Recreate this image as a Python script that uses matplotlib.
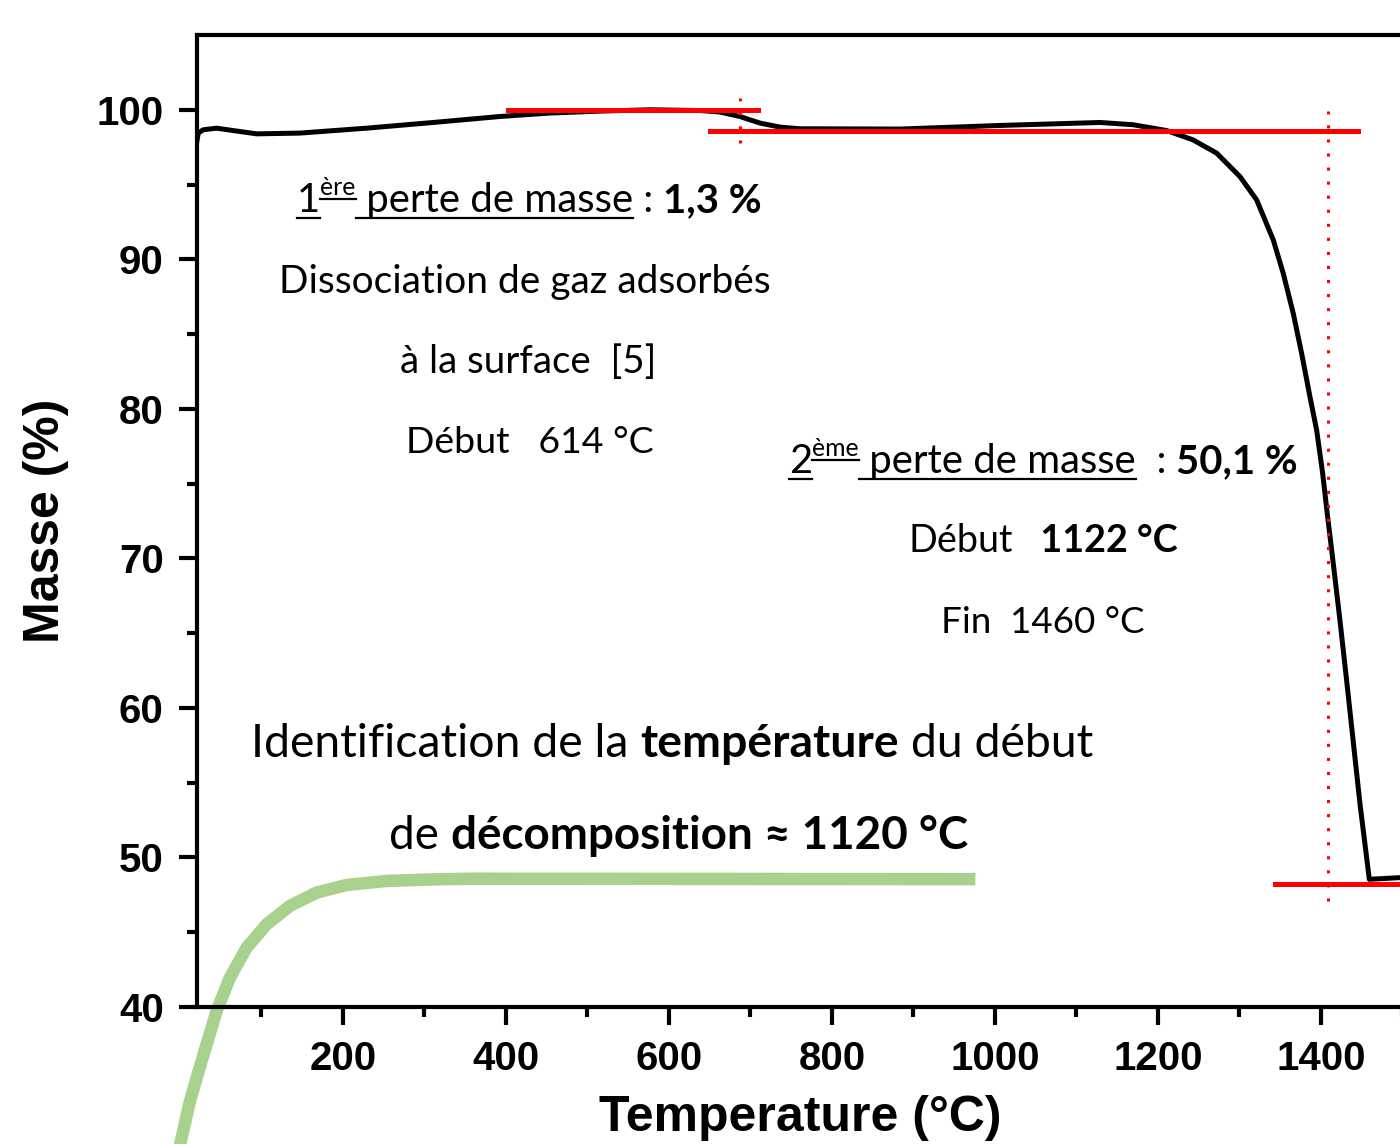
import numpy as np
import matplotlib
matplotlib.use("Agg")
import matplotlib.pyplot as plt
from matplotlib.lines import Line2D

W, H = 1400, 1144
TXT = ["Lato", "DejaVu Sans"]
AXF = "Liberation Sans"

# TGA curve
temp = [20.5, 22.5, 28.6, 45, 65.4, 94.1, 147.2, 229.1, 310.8, 392.6, 454, 515.3, 576.7,
        638, 662.6, 687.1, 711.7, 736.2, 760.7, 883.4, 1006, 1128.8, 1169.3, 1210.7,
        1242.9, 1272, 1300.6, 1321.1, 1341.5, 1353.7, 1366, 1376.3, 1386.5, 1394.7,
        1402.1, 1407.7, 1415.1, 1423.3, 1431.5, 1437.7, 1447.9, 1459.3, 1497, 1530]
masse = [97.77, 98.44, 98.66, 98.77, 98.61, 98.39, 98.44, 98.77, 99.15, 99.55, 99.78, 99.91,
         100.0, 99.95, 99.85, 99.55, 99.11, 98.84, 98.73, 98.71, 98.95, 99.15, 99.0, 98.61,
         97.99, 97.1, 95.53, 93.97, 91.29, 89.06, 86.38, 83.7, 80.8, 78.57, 75.67, 72.99,
         69.64, 65.84, 61.82, 58.69, 53.56, 48.54, 48.65, 48.7]

# tangent construction lines (x0, x1, y)
h_lines = [(402, 709, 100.0), (650, 1445, 98.56), (1344, 1560, 48.25)]
# dotted markers (x, y0, y1)
v_lines = [(687, 97.8, 100.8), (1408, 47.1, 99.9)]

# green decoration curve
green_x = [0, 12.3, 26.6, 45, 61.3, 81.8, 106.4, 135, 167.7, 204.5, 253.6, 315, 355.8, 976]
green_y = [30.74, 33.69, 36.37, 39.72, 41.95, 43.96, 45.53, 46.76, 47.65, 48.16, 48.43,
           48.54, 48.58, 48.55]

xticks = [200, 400, 600, 800, 1000, 1200, 1400]
yticks = [40, 50, 60, 70, 80, 90, 100]

fig = plt.figure(figsize=(W / 100, H / 100), dpi=100)
ax = fig.add_axes([197 / W, 1 - 1007 / H, (1484 - 197) / W, (1007 - 35) / H])
ax.set_xlim(21, 1600)
ax.set_ylim(40, 105)

ax.plot(temp, masse, color="black", lw=3.6, zorder=3, solid_joinstyle="round")
for x0, x1, y in h_lines:
    ax.plot([x0, x1], [y, y], color="#ff0000", lw=3.6, zorder=4, clip_on=False)
for x, y0, y1 in v_lines:
    ax.plot([x, x], [y0, y1], color="#ff0000", lw=2.2, ls=(0, (1, 3.6)), zorder=4)
ax.plot(green_x, green_y, color="#a9d18e", lw=9, clip_on=False, zorder=2,
        solid_capstyle="butt", solid_joinstyle="round")

for s in ["top", "left", "bottom", "right"]:
    ax.spines[s].set_linewidth(3)
ax.set_xticks(xticks)
ax.set_xticks(np.arange(100, 1600, 200), minor=True)
ax.set_yticks(yticks)
ax.set_yticks(np.arange(45, 105, 10), minor=True)
ax.tick_params(which="major", length=13, width=3, direction="out", pad=11)
ax.tick_params(which="minor", length=7, width=3, direction="out")
for lab in ax.get_xticklabels() + ax.get_yticklabels():
    lab.set_fontfamily(AXF)
    lab.set_fontweight("bold")
    lab.set_fontsize(29)

fig.text(800 / W, 1 - 1118 / H, "Temperature (°C)", fontsize=36, fontweight="bold",
         family=AXF, ha="center", va="center")
fig.text(46 / W, 1 - 521 / H, "Masse (%)", fontsize=36, fontweight="bold",
         family=AXF, ha="center", va="center", rotation=90)

renderer = fig.canvas.get_renderer()


def rich(parts, left, right, base, size):
    def draw(sz):
        arts = []
        x = left
        for s, bold, sup, ul in parts:
            fs = sz * 0.62 if sup else sz
            yb = base - (sz * 1.389 * 0.42 if sup else 0)
            t = fig.text(x / W, 1 - yb / H, s, fontsize=fs, family=TXT,
                         fontweight="bold" if bold else "normal", ha="left", va="baseline")
            w = t.get_window_extent(renderer).width
            arts.append(t)
            if ul:
                off = 4 if sup else 6
                ln = Line2D([x / W, (x + w) / W], [1 - (yb + off) / H] * 2,
                            transform=fig.transFigure, color="black", lw=1.6)
                fig.add_artist(ln)
                arts.append(ln)
            x += w
        return arts, x - left
    arts, w = draw(size)
    for a in arts:
        a.remove()
    draw(size * (right - left) / w)


rich([("1", False, False, True), ("ère", False, True, True),
      (" perte de masse", False, False, True), (" : ", False, False, False),
      ("1,3 %", True, False, False)], 297, 762, 212, 28)
rich([("Dissociation de gaz adsorbés", False, False, False)], 279, 770, 293, 28)
rich([("à la surface  [5]", False, False, False)], 400, 656, 373, 28)
rich([("Début   614 °C", False, False, False)], 406, 654, 453, 28)
rich([("2", False, False, True), ("ème", False, True, True),
      (" perte de masse", False, False, True), ("  : ", False, False, False),
      ("50,1 %", True, False, False)], 789, 1297, 473, 28)
rich([("Début", False, False, False), ("   1122 °C", True, False, False)], 909, 1178, 552, 28)
rich([("Fin  1460 °C", False, False, False)], 941, 1145, 633, 28)
rich([("Identification de la ", False, False, False), ("température", True, False, False),
      (" du début", False, False, False)], 251, 1095, 757, 32)
rich([("de ", False, False, False), ("décomposition ≈ 1120 °C", True, False, False)],
     389, 968, 849, 32)

fig.savefig("out.png", dpi=100)
